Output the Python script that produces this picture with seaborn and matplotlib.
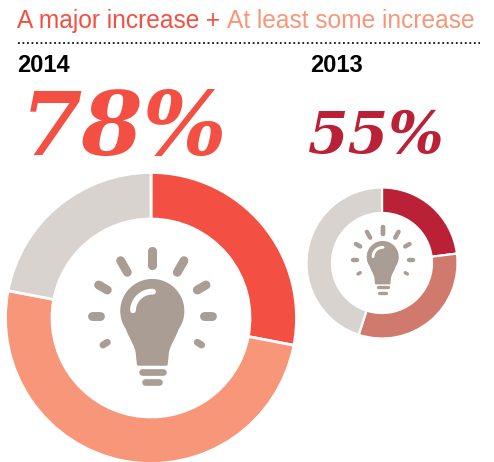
import numpy as np
import matplotlib
matplotlib.use("Agg")
import matplotlib.pyplot as plt
from matplotlib.path import Path
from matplotlib.patches import PathPatch
import seaborn as sns

# Survey shares, percent of respondents
years = ["2014", "2013"]
major_increase = [28, 23]
some_increase = [50, 32]
no_increase = [22, 45]

COLORS_2014 = sns.color_palette(["#F44F43", "#F89679", "#D9D3CF"])
COLORS_2013 = sns.color_palette(["#BA2136", "#D07A6E", "#D9D3CF"])
BULB = "#A99D94"
W, H = 494, 462

sns.set_theme(style="white", rc={"font.family": ["Liberation Sans", "DejaVu Sans"]})

fig = plt.figure(figsize=(W / 100, H / 100), dpi=100, facecolor="white")
ax = fig.add_axes([0, 0, 1, 1])


def py(y):
    """Convert a top-down pixel row to the y-up axes coordinate."""
    return H - y


def donut(values, colors, cx, cy, outer, inner, gap):
    ax.pie(values, colors=colors, startangle=90, counterclock=False,
           center=(cx, py(cy)), radius=outer, frame=True,
           wedgeprops=dict(width=outer - inner, edgecolor="white", linewidth=gap))


def bulb(cx, cy, k):
    """Light bulb icon; cx, cy is the middle of the glass, k the scale."""
    x0, y0 = cx, py(cy)
    u = k / 3
    # Glass outline traced round the head, then down to the collar
    a = np.radians(np.linspace(-35, 215, 60))
    head = np.column_stack([92 * np.cos(a), 92 * np.sin(a)])
    verts = list(map(tuple, head))
    codes = [Path.MOVETO] + [Path.LINETO] * (len(head) - 1)
    verts += [(-64, -85), (-46, -105), (-45, -132)]
    codes += [Path.CURVE4] * 3
    verts += [(-42, -160), (42, -160), (45, -132)]
    codes += [Path.LINETO] * 3
    verts += [(46, -105), (64, -85), tuple(head[0])]
    codes += [Path.CURVE4] * 3
    verts.append(tuple(head[0]))
    codes.append(Path.CLOSEPOLY)
    pts = np.array(verts) * u + [x0, y0]
    ax.add_patch(PathPatch(Path(pts, codes), facecolor=BULB, edgecolor=BULB,
                           linewidth=2 * k, joinstyle="round", zorder=4))
    # Highlight on the glass
    arc = np.radians(np.linspace(88, 178, 20))
    ax.plot(x0 + 58 * u * np.cos(arc), y0 + 58 * u * np.sin(arc),
            color="white", lw=4.2 * k, solid_capstyle="round", zorder=5)
    # Collar bars
    for half, dy, in [(31, -182), (21, -214)]:
        ax.plot([x0 - half * u, x0 + half * u], [y0 + dy * u] * 2, color=BULB,
                lw=4.8 * k, solid_capstyle="round", zorder=4)
    # Rays, given for one side and mirrored
    rays = [((0, 181), (0, 138)), ((95, 151), (75, 116)),
            ((161, 78), (135, 63)), ((180, -15), (156, -15)),
            ((148, -102), (135, -94))]
    for (xa, ya), (xb, yb) in rays:
        for s in (1, -1):
            ax.plot([x0 + s * xa * u, x0 + s * xb * u],
                    [y0 + ya * u, y0 + yb * u], color=BULB,
                    lw=6.4 * k if ya != -102 else 5.0 * k,
                    solid_capstyle="round", zorder=4)


donut([major_increase[0], some_increase[0], no_increase[0]], COLORS_2014, 151, 318, 145.5, 99, 2.0)
donut([major_increase[1], some_increase[1], no_increase[1]], COLORS_2013, 382, 263, 75.5, 50, 1.6)
bulb(152.3, 311, 1.0)
bulb(382.7, 257, 0.5)

ax.set_xlim(0, W)
ax.set_ylim(0, H)
ax.set_aspect("equal")
ax.axis("off")

# Legend-style heading with its two colours
t1 = ax.text(17, py(33), "A major increase", color=COLORS_2014[0], fontsize=17.65, va="bottom")
t2 = ax.annotate(" + ", xy=(1, 0), xycoords=t1, color=COLORS_2014[0], fontsize=17.65, va="bottom")
t3 = ax.annotate("At least some increase", xy=(1, 0), xycoords=t2,
                 color=COLORS_2014[1], fontsize=17.65, va="bottom")
ax.plot([17.5, 480], [py(42.5)] * 2, color="#111111", lw=1.3, ls=(0, (1, 1.5)))

# Year headings
for x, year in zip([17, 310], years):
    ax.text(x, py(72), year, color="black", fontsize=17, fontweight="bold", va="baseline")

# Combined share of the two increase categories
serif = dict(family="DejaVu Serif", fontweight="bold", style="italic", va="baseline")
total_2014 = major_increase[0] + some_increase[0]
total_2013 = major_increase[1] + some_increase[1]
ax.text(21, py(155), f"{total_2014}%", color=COLORS_2014[0], fontsize=63.5, **serif)
ax.text(308, py(153), f"{total_2013}%", color=COLORS_2013[0], fontsize=42, **serif)

fig.savefig("out.png", dpi=100, facecolor="white")
